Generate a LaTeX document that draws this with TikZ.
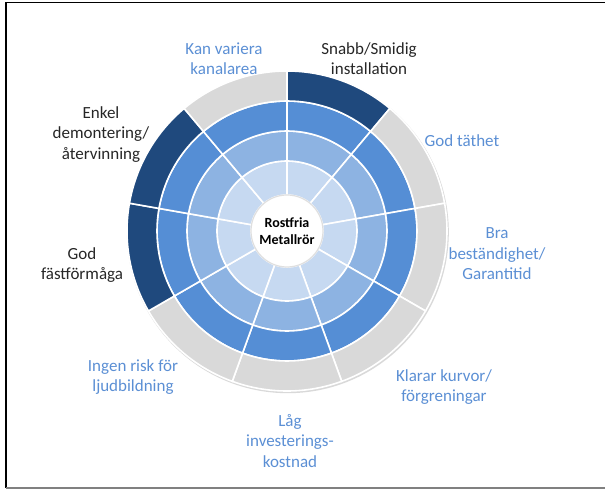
\documentclass[tikz,border=0pt]{standalone}
\usepackage{fontspec}
\setmainfont{Carlito}
\usepackage{tikz}
\definecolor{ringA}{HTML}{C6D9F1}
\definecolor{ringB}{HTML}{8DB3E2}
\definecolor{ringC}{HTML}{558ED5}
\definecolor{navy}{HTML}{1F497D}
\definecolor{ringgray}{HTML}{D9D9D9}
\definecolor{labblue}{HTML}{5B8FD4}
\definecolor{labdark}{HTML}{262626}

\begin{document}
\begin{tikzpicture}[x=1pt,y=1pt,
  sector/.style={draw=white,line width=1.6pt},
  lab/.style={align=center,font=\fontsize{17}{20.5}\selectfont}]
\useasboundingbox (-287,-258) rectangle (318,231);
% frame, dark top/left, grey bottom
\draw[black,line width=1.6pt] (318,228.5) -- (-281,228.5) -- (-281,-257);
\draw[gray,line width=1.2pt] (-281,-257) -- (318,-257);
% soft shadow behind the outer ring
\fill[gray!30] (0.8,-1.2) circle (161);
% rings 1-3 (inner to outer), same in all nine sectors
\foreach \i in {0,...,8}{
  \pgfmathsetmacro{\a}{90-\i*40}
  \pgfmathsetmacro{\b}{50-\i*40}
  \foreach \ri/\ro/\col in {36/70/ringA,70/100/ringB,100/130/ringC}{
    \draw[sector,fill=\col] (\a:\ri) arc[start angle=\a,end angle=\b,radius=\ri]
      -- (\b:\ro) arc[start angle=\b,end angle=\a,radius=\ro] -- cycle;
  }
}
% outer ring, navy where the property is met
\foreach \i/\col in {0/navy,1/ringgray,2/ringgray,3/ringgray,4/ringgray,
  5/ringgray,6/navy,7/navy,8/ringgray}{
  \pgfmathsetmacro{\a}{90-\i*40}
  \pgfmathsetmacro{\b}{50-\i*40}
  \draw[sector,fill=\col] (\a:130) arc[start angle=\a,end angle=\b,radius=130]
    -- (\b:160) arc[start angle=\b,end angle=\a,radius=160] -- cycle;
}
% hub
\node[circle,fill=white,draw=gray!25,line width=1.2pt,minimum size=72pt,
  inner sep=0pt,align=center,font=\fontsize{14}{17}\selectfont\bfseries]
  (hub) at (0,0) {Rostfria\\Metallrör};
% labels round the wheel
\foreach \x/\y/\col/\txt [count=\k] in {
  82/172.5/labdark/{Snabb/Smidig\\installation},
  175/90.3/labblue/{God täthet},
  210/-23/labblue/{Bra\\beständighet/\\Garantitid},
  157/-156/labblue/{Klarar kurvor/\\förgreningar},
  3/-210/labblue/{Låg\\investerings-\\kostnad},
  -154/-146/labblue/{Ingen risk för\\ljudbildning},
  -205/-34/labdark/{God\\fästförmåga},
  -186/96.5/labdark/{Enkel\\demontering/\\återvinning},
  -63/172.5/labblue/{Kan variera\\kanalarea}}{
  \node[lab,text=\col] (lab\k) at (\x,\y) {\txt};
}
\end{tikzpicture}
\end{document}
